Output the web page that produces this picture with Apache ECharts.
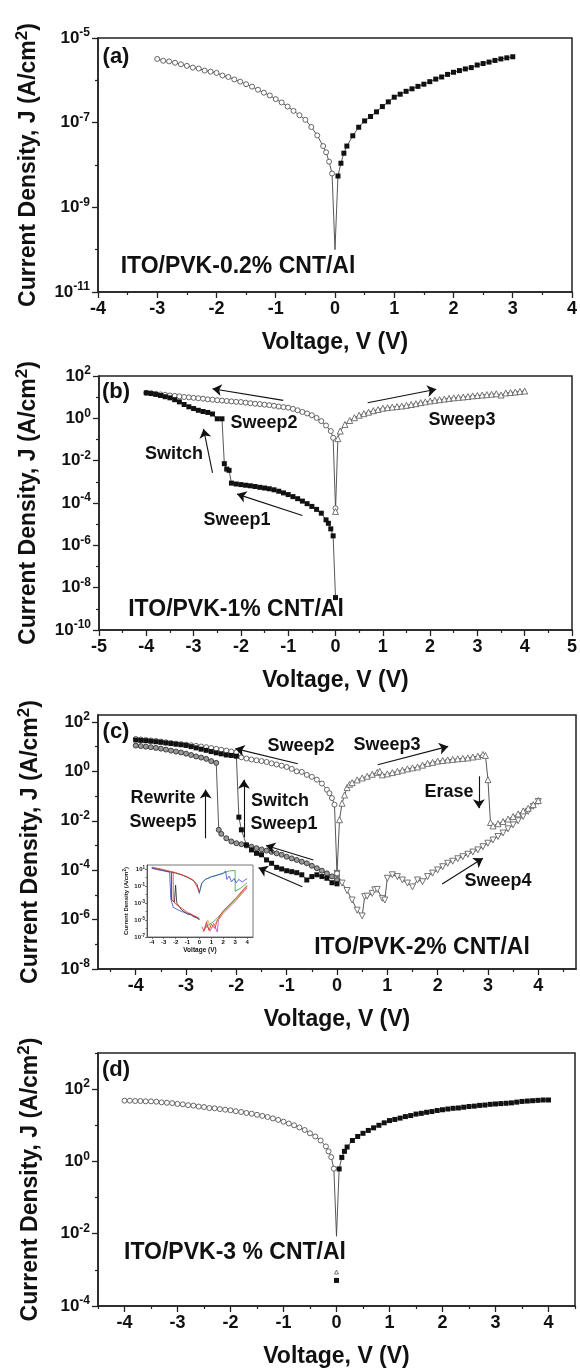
<!DOCTYPE html>
<html><head><meta charset="utf-8">
<script src="https://cdn.jsdelivr.net/npm/echarts@6/dist/echarts.min.js"></script>
<style>html,body{margin:0;padding:0;background:#fff}#c{width:580px;height:1372px}</style>
</head><body><div id="c"></div><script>
// ---------- DATA (V in volts, J in A/cm^2) ----------
// (a) ITO/PVK-0.2% CNT/Al
const aNegV = [-3.0,-2.9,-2.8,-2.7,-2.6,-2.5,-2.4,-2.3,-2.2,-2.1,-2.0,-1.9,-1.8,-1.7,-1.6,-1.5,-1.4,-1.3,-1.2,-1.1,-1.0,-0.9,-0.8,-0.7,-0.6,-0.5,-0.4,-0.3,-0.2,-0.15,-0.1,-0.05];
const aNegJ = [3.2e-6,2.9e-6,2.8e-6,2.6e-6,2.4e-6,2.2e-6,2.0e-6,1.9e-6,1.7e-6,1.6e-6,1.5e-6,1.3e-6,1.2e-6,1.05e-6,9.3e-7,8.1e-7,7.1e-7,6.0e-7,5.1e-7,4.4e-7,3.6e-7,3.0e-7,2.4e-7,1.9e-7,1.5e-7,1.17e-7,7.9e-8,5.0e-8,2.8e-8,2.0e-8,1.2e-8,6.3e-9];
const aTipV = [0];
const aTipJ = [1.0e-10];
const aPosV = [0.05,0.1,0.15,0.2,0.3,0.4,0.5,0.6,0.7,0.8,0.9,1.0,1.1,1.2,1.3,1.4,1.5,1.6,1.7,1.8,1.9,2.0,2.1,2.2,2.3,2.4,2.5,2.6,2.7,2.8,2.9,3.0];
const aPosJ = [5.5e-9,1.1e-8,1.9e-8,2.8e-8,4.9e-8,7.8e-8,1.1e-7,1.4e-7,1.8e-7,2.4e-7,3.1e-7,4.0e-7,4.7e-7,5.5e-7,6.3e-7,7.2e-7,8.1e-7,9.3e-7,1.07e-6,1.2e-6,1.38e-6,1.55e-6,1.7e-6,1.86e-6,2.0e-6,2.3e-6,2.5e-6,2.7e-6,2.95e-6,3.2e-6,3.4e-6,3.6e-6];

// (b) ITO/PVK-1% CNT/Al
const bS1V = [0,-0.05,-0.1,-0.15,-0.2,-0.3,-0.4,-0.5,-0.6,-0.7,-0.8,-0.9,-1.0,-1.1,-1.2,-1.3,-1.4,-1.5,-1.6,-1.7,-1.8,-1.9,-2.0,-2.1,-2.2,-2.25,-2.3,-2.35,-2.4,-2.5,-2.6,-2.7,-2.8,-2.9,-3.0,-3.1,-3.2,-3.3,-3.4,-3.5,-3.6,-3.7,-3.8,-3.9,-4.0];
const bS1J = [3.4e-9,2.8e-6,6.0e-6,1.1e-5,1.6e-5,3.3e-5,5.0e-5,6.9e-5,9.3e-5,1.23e-4,1.6e-4,2.0e-4,2.5e-4,3.0e-4,3.6e-4,4.2e-4,4.7e-4,5.1e-4,5.5e-4,6.0e-4,6.5e-4,6.9e-4,7.4e-4,7.9e-4,8.7e-4,3.5e-3,4.0e-3,7.2e-3,0.95,0.95,1.6,1.9,2.1,2.4,2.9,3.5,4.5,6.0,7.6,9.3,10.5,12,13.5,14.8,16];
const bS2V = [-4.0,-3.9,-3.8,-3.7,-3.6,-3.5,-3.4,-3.3,-3.2,-3.1,-3.0,-2.9,-2.8,-2.7,-2.6,-2.5,-2.4,-2.3,-2.2,-2.1,-2.0,-1.9,-1.8,-1.7,-1.6,-1.5,-1.4,-1.3,-1.2,-1.1,-1.0,-0.9,-0.8,-0.7,-0.6,-0.5,-0.4,-0.3,-0.2,-0.1,-0.05,0];
const bS2J = [16,15.5,14.5,13.5,12.9,12,11.5,11,10.2,9.8,9.3,8.9,8.5,7.9,7.6,7.2,6.9,6.6,6.3,6.0,5.9,5.5,5.2,4.9,4.7,4.4,4.2,3.9,3.6,3.4,3.2,2.8,2.4,2.0,1.7,1.4,1.05,0.74,0.46,0.25,0.12,5.6e-5];
const bS3V = [0,0.05,0.1,0.2,0.3,0.4,0.5,0.6,0.7,0.8,0.9,1.0,1.1,1.2,1.3,1.4,1.5,1.6,1.7,1.8,1.9,2.0,2.1,2.2,2.3,2.4,2.5,2.6,2.7,2.8,2.9,3.0,3.1,3.2,3.3,3.4,3.5,3.6,3.7,3.8,3.9,4.0];
const bS3J = [4.0e-5,0.11,0.25,0.51,0.79,1.07,1.4,1.66,1.95,2.3,2.6,3.0,3.2,3.4,3.6,3.8,4.1,4.5,4.9,5.5,6.0,6.6,7.1,7.6,8.1,8.7,9.3,9.8,10.2,10.7,11.5,12,12.6,13.2,13.8,14.5,12.6,15.8,16.6,17.4,18.6,19.5];

// (c) ITO/PVK-2% CNT/Al
const cS1V = [0,-0.1,-0.2,-0.3,-0.4,-0.5,-0.6,-0.7,-0.8,-0.9,-1.0,-1.1,-1.2,-1.3,-1.4,-1.5,-1.6,-1.7,-1.8,-1.9,-1.95,-2.0,-2.1,-2.2,-2.3,-2.4,-2.5,-2.6,-2.7,-2.8,-2.9,-3.0,-3.1,-3.2,-3.3,-3.4,-3.5,-3.6,-3.7,-3.8,-3.9,-4.0];
const cS1J = [2.8e-5,3.1e-5,4.7e-5,5.5e-5,6.5e-5,5.5e-5,4.0e-5,6.5e-5,7.9e-5,8.7e-5,9.5e-5,1.12e-4,1.3e-4,1.9e-4,2.6e-4,4.2e-4,4.8e-4,6.6e-4,1.05e-3,4.3e-3,1.4e-2,4.1,4.4,4.6,5.1,5.6,6.3,7.1,7.9,8.9,10,11.2,11.9,12.6,13.3,14.1,15,15.8,16.6,17.4,18,18.6];
const cS2V = [-4.0,-3.9,-3.8,-3.7,-3.6,-3.5,-3.4,-3.3,-3.2,-3.1,-3.0,-2.9,-2.8,-2.7,-2.6,-2.5,-2.4,-2.3,-2.2,-2.1,-2.0,-1.9,-1.8,-1.7,-1.6,-1.5,-1.4,-1.3,-1.2,-1.1,-1.0,-0.9,-0.8,-0.7,-0.6,-0.5,-0.4,-0.3,-0.2,-0.15,-0.1,-0.05,0];
const cS2J = [20.4,19.5,18.6,17.8,17,16,15,14,13.2,12.6,12,11.3,10.7,10.1,9.5,8.8,8.1,7.5,6.9,6.3,5.9,3.7,3.3,3.0,2.8,2.6,2.4,2.1,1.9,1.7,1.5,1.26,1.0,0.95,0.72,0.60,0.46,0.32,0.18,0.13,0.083,0.045,7.4e-5];
const cS3V = [0,0.05,0.1,0.15,0.2,0.25,0.3,0.4,0.5,0.6,0.7,0.8,0.85,0.9,1.0,1.1,1.2,1.3,1.4,1.5,1.6,1.7,1.8,1.9,2.0,2.1,2.2,2.3,2.4,2.5,2.6,2.7,2.8,2.9,2.95,3.0,3.05,3.1,3.2,3.3,3.4,3.5,3.6,3.7,3.8,3.9,4.0];
const cS3J = [7.4e-5,0.011,0.051,0.11,0.22,0.30,0.35,0.45,0.54,0.63,0.76,0.91,1.0,0.72,0.79,0.89,1.0,1.12,1.26,1.38,1.5,1.78,2.1,2.3,2.6,2.75,2.9,3.05,3.2,3.35,3.5,3.8,4.1,4.8,4.4,0.46,8.5e-3,6.2e-3,7.6e-3,9.3e-3,1.17e-2,1.48e-2,1.9e-2,2.5e-2,3.2e-2,4.5e-2,6.6e-2];
const cS4V = [0,0.1,0.2,0.3,0.4,0.5,0.55,0.6,0.7,0.75,0.8,0.9,0.95,1.0,1.1,1.2,1.3,1.4,1.5,1.6,1.7,1.8,1.9,2.0,2.1,2.2,2.3,2.4,2.5,2.6,2.7,2.8,2.9,3.0,3.1,3.2,3.3,3.4,3.5,3.6,3.7,3.8,3.9,4.0];
const cS4J = [7.4e-5,3.0e-5,1.5e-5,6.2e-6,2.4e-6,1.4e-6,8.5e-6,8.9e-6,1.15e-5,1.6e-5,1.66e-5,7.2e-6,6.2e-6,4.7e-5,6.5e-5,5.5e-5,4.0e-5,3.0e-5,2.1e-5,4.0e-5,3.4e-5,5.5e-5,7.6e-5,1.02e-4,1.38e-4,1.9e-4,2.3e-4,2.9e-4,3.5e-4,4.4e-4,5.4e-4,6.6e-4,8.9e-4,1.23e-3,1.66e-3,2.3e-3,3.2e-3,4.7e-3,6.8e-3,1.0e-2,1.5e-2,2.4e-2,3.8e-2,6.0e-2];
const cS5V = [0,-0.1,-0.2,-0.3,-0.4,-0.5,-0.6,-0.7,-0.8,-0.9,-1.0,-1.1,-1.2,-1.3,-1.4,-1.5,-1.6,-1.7,-1.8,-1.9,-2.0,-2.1,-2.2,-2.3,-2.35,-2.4,-2.5,-2.6,-2.7,-2.8,-2.9,-3.0,-3.1,-3.2,-3.3,-3.4,-3.5,-3.6,-3.7,-3.8,-3.9,-4.0];
const cS5J = [4.0e-5,5.6e-5,7.4e-5,9.5e-5,1.2e-4,1.5e-4,1.9e-4,2.2e-4,2.6e-4,3.0e-4,3.5e-4,4.2e-4,4.8e-4,5.5e-4,6.2e-4,6.9e-4,7.8e-4,8.9e-4,1.0e-3,1.12e-3,1.23e-3,1.45e-3,1.95e-3,2.95e-3,4.3e-3,2.2,2.6,3.2,3.6,4.0,4.6,5.2,5.8,6.3,6.9,7.6,8.3,8.9,9.5,10,10.5,11];

// (c) inset: repeated cycles (coloured traces)
const inBlkUV = [-4,-3.5,-3,-2.5,-2,-1.5,-1,-0.5,-0.2,0];
const inBlkUJ = [14,10,7.1,5,3.5,2.2,1.1,0.45,0.16,0.013];
const inBlkLV = [-2.35,-2.35,-2.1,-2.0,-1.9,-1.5,-1,-0.7,-0.5,-0.2,0];
const inBlkLJ = [4,2.5e-3,1.3e-3,0.13,1e-3,1.6e-4,5e-5,5e-5,2.5e-5,2e-5,1e-5];
const inRedUV = [-4,-3,-2,-1,-0.5,0];
const inRedUJ = [18,8.9,4,1.26,0.5,0.025];
const inRedLV = [-2.2,-2.2,-2,-1.5,-1,0];
const inRedLJ = [5,2e-3,8e-4,2.5e-4,8e-5,1.6e-5];
const inRedPV = [0.2,0.4,0.6,0.8,1.0,1.3,1.5,2,3,4];
const inRedPJ = [1.6e-6,5e-7,6.3e-6,6.3e-7,3.2e-6,1e-6,1e-5,1.26e-4,3.2e-3,0.126];
const inBluLV = [-4,-3,-2.5,-2.4,-2.4,-2.2,-1.5,-1,0];
const inBluLJ = [12.6,6.3,4.5,3.2,3.2e-3,3.2e-4,1e-4,6.3e-5,1.26e-5];
const inBluPV = [0,0.2,0.5,1,1.5,2,2.2,2.3,2.5,2.7,2.9,3.1,3.3,3.6,4];
const inBluPJ = [0.02,0.25,0.63,1.26,2,3.2,6.3,0.63,1.58,0.32,0.8,0.25,0.63,0.32,0.8];
const inGrnUV = [0,0.2,0.5,1,2,2.5,3.0,3.0,3.5,4];
const inGrnUJ = [0.016,0.2,0.63,1.26,3.5,6.3,7.1,0.025,0.063,0.25];
const inGrnLV = [0.5,0.8,1.2,2,3,4];
const inGrnLJ = [1e-6,3.2e-6,6.3e-6,1e-4,2.5e-3,0.1];
const inMagV = [0.3,0.6,0.9,1.2,1.5,1.6,2,3,4];
const inMagJ = [4e-7,2.5e-6,5e-7,4e-6,4e-7,1e-5,6.3e-5,1.6e-3,0.063];
const inOrgV = [0.4,0.7,1.0,1.3,2,3,4];
const inOrgJ = [1e-6,1e-5,1e-6,3.2e-6,8e-5,2e-3,0.08];

// (d) ITO/PVK-3 % CNT/Al
const dNegV = [-4.0,-3.9,-3.8,-3.7,-3.6,-3.5,-3.4,-3.3,-3.2,-3.1,-3.0,-2.9,-2.8,-2.7,-2.6,-2.5,-2.4,-2.3,-2.2,-2.1,-2.0,-1.9,-1.8,-1.7,-1.6,-1.5,-1.4,-1.3,-1.2,-1.1,-1.0,-0.9,-0.8,-0.7,-0.6,-0.5,-0.4,-0.3,-0.2,-0.15,-0.1,-0.05];
const dNegJ = [48,48,47,47,46,46,45,43,42,41,39,38,36,35,33,32,30,29.5,28,27,26,24.5,23.4,21.9,20.9,19.5,18.2,17,15.5,14.1,12.6,11.2,10,8.7,7.4,6.0,4.9,3.8,2.6,1.9,1.32,0.63];
const dTipV = [0];
const dTipJ = [8.5e-3];
const dPosV = [0.05,0.1,0.15,0.2,0.3,0.4,0.5,0.6,0.7,0.8,0.9,1.0,1.1,1.2,1.3,1.4,1.5,1.6,1.7,1.8,1.9,2.0,2.1,2.2,2.3,2.4,2.5,2.6,2.7,2.8,2.9,3.0,3.1,3.2,3.3,3.4,3.5,3.6,3.7,3.8,3.9,4.0];
const dPosJ = [0.62,1.29,1.9,2.5,3.8,4.9,6.0,7.2,8.5,10,11.7,13.5,14.5,15.8,17.4,18.6,20.4,21.4,22.9,24,25.7,26.9,28.2,29.5,30.2,31.6,33.1,33.9,35.5,36.3,38,38.9,39.8,40.7,41.7,43.7,45.7,46.8,47.9,49,50.1,50.1];
const dZeroSqV = [0];
const dZeroSqJ = [5.1e-4];
const dZeroTrV = [0];
const dZeroTrJ = [8.7e-4];

// tick labels
const aXLab = [-4,-3,-2,-1,0,1,2,3,4];
const bXLab = [-5,-4,-3,-2,-1,0,1,2,3,4,5];
const cdXLab = [-4,-3,-2,-1,0,1,2,3,4];
const aYLab = [-11,-9,-7,-5];       // exponents of 10
const bYLab = [-10,-8,-6,-4,-2,0,2];
const cYLab = [-8,-6,-4,-2,0,2];
const dYLab = [-4,-2,0,2];
const inYLab = [-7,-5,-3,-1,1];

// ---------- RENDER ----------
const FONT = '"Liberation Sans", Arial, Helvetica, sans-serif';
const pts = (V, J) => V.map((v, i) => [v, Math.log10(J[i])]);
const halfSteps = (a, b) => { const r = []; for (let k = Math.ceil(a * 2); k <= Math.floor(b * 2); k++) r.push(k / 2); return r; };
const intSteps = (a, b) => { const r = []; for (let k = Math.ceil(a); k <= Math.floor(b); k++) r.push(k); return r; };

const grids = [
  {left: 98, top: 38, width: 478, height: 254},
  {left: 99, top: 376, width: 477, height: 254},
  {left: 98, top: 715, width: 478, height: 254},
  {left: 98, top: 1053, width: 477, height: 254},
  {left: 147, top: 865, width: 106, height: 72}
].map((g, i) => Object.assign({show: true, borderColor: i === 4 ? '#777' : '#222', borderWidth: i === 4 ? 1 : 1.5, backgroundColor: i === 4 ? '#fff' : 'transparent', z: i === 4 ? 5 : 0}, g));

const yRich = {
  b: {fontSize: 17, fontWeight: 'bold', fontFamily: FONT, color: '#111', lineHeight: 22},
  s: {fontSize: 12, fontWeight: 'bold', fontFamily: FONT, color: '#111', lineHeight: 12, verticalAlign: 'top'}
};
const yRichSmall = {
  b: {fontSize: 6, fontWeight: 'bold', fontFamily: FONT, color: '#222', lineHeight: 8},
  s: {fontSize: 4.5, fontWeight: 'bold', fontFamily: FONT, color: '#222', lineHeight: 5, verticalAlign: 'top'}
};

const xAxis = [], yAxis = [];
function addAxes(g, xmin, xmax, xlab, ymin, ymax, ylab, small) {
  const lc = small ? '#555' : '#222';
  const xMinor = halfSteps(xmin, xmax).filter(v => xlab.indexOf(v) < 0);
  const yMinor = intSteps(ymin, ymax).filter(v => ylab.indexOf(v) < 0);
  xAxis.push({
    type: 'value', gridIndex: g, min: xmin, max: xmax, position: 'bottom',
    axisLine: {show: true, onZero: false, lineStyle: {color: lc, width: small ? 1 : 1.5}},
    axisTick: {show: true, length: small ? 2 : 6, customValues: xlab, lineStyle: {color: lc, width: small ? 0.8 : 1.3}},
    axisLabel: {show: true, customValues: xlab, fontSize: small ? 6 : 18, fontWeight: 'bold', fontFamily: FONT, color: '#111', margin: small ? 2 : 8},
    splitLine: {show: false},
    name: small ? 'Voltage (V)' : 'Voltage, V (V)', nameLocation: 'middle', nameGap: small ? 9 : 37,
    nameTextStyle: {fontSize: small ? 6.5 : 23, fontWeight: 'bold', fontFamily: FONT, color: '#111', lineHeight: small ? 8 : 28},
    z: small ? 6 : 3
  });
  xAxis.push({
    type: 'value', gridIndex: g, min: xmin, max: xmax, position: 'bottom',
    axisLine: {show: false, onZero: false}, axisLabel: {show: false}, splitLine: {show: false},
    axisTick: {show: !small, length: 3, customValues: xMinor, lineStyle: {color: lc, width: 1.2}}
  });
  yAxis.push({
    type: 'value', gridIndex: g, min: ymin, max: ymax, position: 'left',
    axisLine: {show: true, onZero: false, lineStyle: {color: lc, width: small ? 1 : 1.5}},
    axisTick: {show: true, length: small ? 2 : 6, customValues: ylab, lineStyle: {color: lc, width: small ? 0.8 : 1.3}},
    axisLabel: {show: true, customValues: ylab, margin: small ? 2 : 8, formatter: v => '{b|10}{s|' + v + '}', rich: small ? yRichSmall : yRich},
    splitLine: {show: false},
    name: small ? 'Current Density (A/cm{s|2})' : 'Current Density, J (A/cm{s|2})',
    nameLocation: 'middle', nameRotate: 90, nameGap: small ? 13 : 52,
    nameTextStyle: {fontSize: small ? 6 : 23, fontWeight: 'bold', fontFamily: FONT, color: '#111', lineHeight: small ? 8 : 30,
      rich: {s: {fontSize: small ? 4.5 : 17, fontWeight: 'bold', fontFamily: FONT, color: '#111', lineHeight: small ? 5 : 14, verticalAlign: 'top'}}},
    z: small ? 6 : 3
  });
  yAxis.push({
    type: 'value', gridIndex: g, min: ymin, max: ymax, position: 'left',
    axisLine: {show: false, onZero: false}, axisLabel: {show: false}, splitLine: {show: false},
    axisTick: {show: true, length: small ? 1.5 : 3, customValues: yMinor, lineStyle: {color: lc, width: small ? 0.8 : 1.2}}
  });
}
addAxes(0, -4, 4, aXLab, -11, -5, aYLab);
addAxes(1, -5, 5, bXLab, -10, 2, bYLab);
addAxes(2, -4.75, 4.75, cdXLab, -8, 2.28, cYLab);
addAxes(3, -4.5, 4.5, cdXLab, -4, 3, dYLab);
addAxes(4, -4.4, 4.5, cdXLab, -7, 1.5, inYLab, true);

const ST = {
  circ: {symbol: 'circle', symbolSize: 5, itemStyle: {color: '#fff', borderColor: '#555', borderWidth: 0.9}},
  sq: {symbol: 'rect', symbolSize: 5, itemStyle: {color: '#111', borderColor: '#111', borderWidth: 0}},
  tri: {symbol: 'triangle', symbolSize: 6, itemStyle: {color: '#fff', borderColor: '#666', borderWidth: 0.9}},
  dtri: {symbol: 'path://M0,0L10,0L5,9Z', symbolSize: 6, itemStyle: {color: '#fff', borderColor: '#666', borderWidth: 0.9}},
  rw: {symbol: 'circle', symbolSize: 5, itemStyle: {color: '#999', borderColor: '#333', borderWidth: 0.9}},
  none: {symbol: 'none', symbolSize: 0, itemStyle: {color: '#444'}}
};
function ser(g, data, st, extra) {
  return Object.assign({
    type: 'line', xAxisIndex: 2 * g, yAxisIndex: 2 * g, data: data,
    symbol: st.symbol, symbolSize: st.symbolSize, showSymbol: st.symbol !== 'none', itemStyle: st.itemStyle,
    lineStyle: {color: '#444', width: 0.9}, animation: false, silent: true, z: 2
  }, extra || {});
}
function arrows(list) {
  return {
    silent: true, symbol: ['none', 'arrow'], symbolSize: 9, animation: false,
    label: {show: false}, lineStyle: {color: '#111', width: 1.1, type: 'solid'},
    emphasis: {disabled: true},
    data: list.map(a => [{coord: a[0]}, {coord: a[1]}])
  };
}
const inColor = (c) => ({lineStyle: {color: c, width: 0.8}, z: 7});

const series = [
  // (a)
  ser(0, pts([aNegV[aNegV.length - 1]].concat(aTipV, [aPosV[0]]), [aNegJ[aNegJ.length - 1]].concat(aTipJ, [aPosJ[0]])), ST.none),
  ser(0, pts(aNegV, aNegJ), ST.circ),
  ser(0, pts(aPosV, aPosJ), ST.sq),
  // (b)
  ser(1, pts(bS2V, bS2J), ST.circ),
  ser(1, pts(bS3V, bS3J), ST.tri),
  ser(1, pts(bS1V, bS1J), ST.sq, {markLine: arrows([
    [[-1.105, 0.85], [-2.60, 1.40]], [[0.68, 0.74], [2.13, 1.37]],
    [[-2.60, -2.58], [-2.79, -0.50]], [[-0.70, -4.59], [-2.08, -3.58]]])}),
  // (c)
  ser(2, pts(cS4V, cS4J), ST.dtri),
  ser(2, pts(cS3V, cS3J), ST.tri),
  ser(2, pts(cS2V, cS2J), ST.circ),
  ser(2, pts(cS5V, cS5J), ST.rw),
  ser(2, pts(cS1V, cS1J), ST.sq, {markLine: arrows([
    [[-0.78, 0.31], [-2.02, 0.92]], [[0.81, 0.27], [2.21, 1.01]],
    [[2.82, -0.20], [2.82, -1.49]], [[-2.61, -2.71], [-2.61, -0.74]],
    [[-1.85, -2.67], [-1.85, -0.34]], [[-0.47, -3.59], [-1.41, -3.00]],
    [[-0.69, -4.67], [-1.56, -3.90]], [[2.09, -4.56], [2.90, -3.52]]])}),
  // (c) inset
  ser(4, pts(inBlkUV, inBlkUJ), ST.none, inColor('#222')),
  ser(4, pts(inRedUV, inRedUJ), ST.none, inColor('#e0302a')),
  ser(4, pts(inBluLV, inBluLJ), ST.none, inColor('#3a48d0')),
  ser(4, pts(inBlkLV, inBlkLJ), ST.none, inColor('#222')),
  ser(4, pts(inRedLV, inRedLJ), ST.none, inColor('#e0302a')),
  ser(4, pts(inGrnUV, inGrnUJ), ST.none, inColor('#2f9e3f')),
  ser(4, pts(inBluPV, inBluPJ), ST.none, inColor('#3a48d0')),
  ser(4, pts(inGrnLV, inGrnLJ), ST.none, inColor('#2f9e3f')),
  ser(4, pts(inMagV, inMagJ), ST.none, inColor('#c040c0')),
  ser(4, pts(inOrgV, inOrgJ), ST.none, inColor('#f0a020')),
  ser(4, pts(inRedPV, inRedPJ), ST.none, inColor('#e0302a')),
  // (d)
  ser(3, pts([dNegV[dNegV.length - 1]].concat(dTipV, [dPosV[0]]), [dNegJ[dNegJ.length - 1]].concat(dTipJ, [dPosJ[0]])), ST.none),
  ser(3, pts(dNegV, dNegJ), ST.circ),
  ser(3, pts(dPosV, dPosJ), ST.sq),
  ser(3, pts(dZeroSqV, dZeroSqJ), ST.sq),
  ser(3, pts(dZeroTrV, dZeroTrJ), {symbol: 'triangle', symbolSize: 4, itemStyle: {color: '#fff', borderColor: '#555', borderWidth: 0.8}})
];

function txt(t, x, y, size) {
  return {type: 'text', x: x, y: y, z: 10, silent: true,
    style: {text: t, font: 'bold ' + size + 'px ' + FONT, fill: '#111',
      textAlign: 'center', textVerticalAlign: 'middle', align: 'center', verticalAlign: 'middle'}};
}
const graphic = [
  txt('(a)', 116, 57, 22), txt('ITO/PVK-0.2% CNT/Al', 238, 267, 23),
  txt('(b)', 116, 392, 22), txt('Sweep2', 264, 423, 18), txt('Sweep3', 462, 420, 18),
  txt('Switch', 174, 454, 18), txt('Sweep1', 237, 520, 18), txt('ITO/PVK-1% CNT/Al', 236, 610, 23),
  txt('(c)', 116, 732, 22), txt('Sweep2', 301, 746, 18), txt('Sweep3', 387, 745, 18),
  txt('Erase', 449, 792, 18), txt('Rewrite', 163, 798, 18), txt('Sweep5', 163, 822, 18),
  txt('Switch', 280, 801, 18), txt('Sweep1', 284, 824, 18), txt('Sweep4', 498, 881, 18),
  txt('ITO/PVK-2% CNT/Al', 422, 948, 23),
  txt('(d)', 116, 1070, 22), txt('ITO/PVK-3 % CNT/Al', 235, 1253, 23)
];

const chart = echarts.init(document.getElementById('c'), null, {renderer: 'canvas'});
chart.setOption({
  backgroundColor: '#fff', animation: false,
  grid: grids, xAxis: xAxis, yAxis: yAxis, series: series, graphic: graphic
});
</script></body></html>
